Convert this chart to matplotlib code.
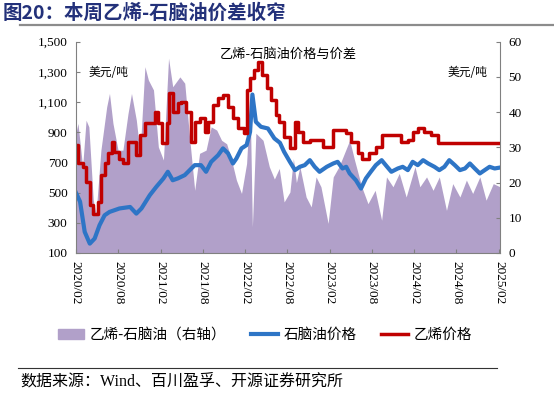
import matplotlib
matplotlib.use('Agg')
import matplotlib.pyplot as plt
from matplotlib.lines import Line2D
from matplotlib.patches import Patch
import pandas as pd

plt.rcParams['font.family'] = ['Liberation Serif', 'Noto Sans CJK SC']

# naphtha price (USD/t, left axis)
naphtha_dates = ['2020-02-01', '2020-02-19', '2020-03-10', '2020-04-01', '2020-04-22', '2020-05-13',
                 '2020-06-04', '2020-06-25', '2020-08-07', '2020-09-22', '2020-10-19', '2020-11-10',
                 '2020-12-16', '2021-01-13', '2021-02-13', '2021-03-04', '2021-03-25', '2021-04-16',
                 '2021-05-16', '2021-06-28', '2021-07-25', '2021-08-16', '2021-09-07', '2021-10-07',
                 '2021-10-28', '2021-11-19', '2021-12-10', '2021-12-25', '2022-01-16', '2022-02-07',
                 '2022-02-22', '2022-03-04', '2022-03-19', '2022-04-10', '2022-05-10', '2022-06-07',
                 '2022-07-01', '2022-07-19', '2022-08-13', '2022-09-04', '2022-09-25', '2022-10-16',
                 '2022-11-07', '2022-11-28', '2022-12-19', '2023-01-19', '2023-02-16', '2023-03-07',
                 '2023-03-28', '2023-04-13', '2023-04-28', '2023-05-25', '2023-06-16', '2023-07-07',
                 '2023-07-28', '2023-08-19', '2023-09-13', '2023-10-04', '2023-10-25', '2023-11-22',
                 '2023-12-13', '2024-01-04', '2024-01-25', '2024-02-16', '2024-03-10', '2024-04-01',
                 '2024-04-28', '2024-05-19', '2024-06-10', '2024-07-01', '2024-07-25', '2024-08-16',
                 '2024-09-07', '2024-09-28', '2024-10-19', '2024-11-10', '2024-12-01', '2024-12-22',
                 '2025-01-13', '2025-02-01']
naphtha = [500, 440, 240, 162, 196, 284,
           350, 372, 395, 405, 361, 395,
           483, 538, 594, 638, 582, 594,
           616, 682, 682, 638, 704, 748,
           793, 760, 693, 726, 793, 815,
           903, 1150, 969, 936, 925, 859,
           830, 770, 704, 649, 671, 682,
           715, 671, 638, 671, 693, 704,
           660, 671, 627, 582, 527, 594,
           638, 682, 715, 676, 638, 660,
           671, 649, 704, 682, 715, 693,
           671, 649, 671, 715, 682, 649,
           660, 693, 660, 627, 649, 671,
           660, 665]

# ethylene price (USD/t, left axis), weekly steps
ethylene_dates = ['2020-02-01', '2020-02-10', '2020-03-01', '2020-03-16', '2020-04-01', '2020-04-16',
                  '2020-05-07', '2020-05-19', '2020-06-04', '2020-06-19', '2020-07-04', '2020-07-16',
                  '2020-08-07', '2020-08-22', '2020-09-13', '2020-10-04', '2020-10-19', '2020-11-04',
                  '2020-11-25', '2020-12-16', '2021-01-07', '2021-01-22', '2021-02-07', '2021-02-28',
                  '2021-03-07', '2021-03-25', '2021-04-16', '2021-05-01', '2021-05-22', '2021-06-13',
                  '2021-06-28', '2021-07-19', '2021-08-10', '2021-08-25', '2021-09-16', '2021-10-07',
                  '2021-10-28', '2021-11-19', '2021-12-10', '2022-01-01', '2022-01-25', '2022-02-07',
                  '2022-02-22', '2022-03-13', '2022-03-28', '2022-04-13', '2022-05-04', '2022-05-25',
                  '2022-06-16', '2022-06-28', '2022-07-19', '2022-08-13', '2022-09-04', '2022-09-16',
                  '2022-10-07', '2022-11-07', '2022-12-04', '2023-01-04', '2023-01-31', '2023-02-16',
                  '2023-03-13', '2023-04-13', '2023-05-04', '2023-06-01', '2023-06-22', '2023-07-22',
                  '2023-08-19', '2023-09-13', '2023-10-04', '2023-11-07', '2023-12-07', '2024-01-04',
                  '2024-01-25', '2024-02-16', '2024-03-16', '2024-04-13', '2024-05-13', '2025-02-05']
ethylene = [815, 693, 671, 571, 416, 361,
            438, 616, 693, 760, 837, 770,
            726, 693, 837, 837, 748, 881,
            959, 959, 1036, 959, 826, 959,
            1158, 1036, 1091, 1102, 1036, 837,
            969, 992, 903, 969, 1080, 1125,
            1147, 1069, 992, 925, 892, 1180,
            1257, 1312, 1367, 1279, 1191, 1113,
            1014, 969, 870, 793, 969, 903,
            837, 848, 848, 804, 804, 914,
            914, 892, 837, 760, 726, 760,
            804, 881, 881, 881, 837, 848,
            903, 925, 903, 881, 830, 830]

# ethylene - naphtha spread (right axis)
spread_dates = ['2020-02-01', '2020-02-10', '2020-03-01', '2020-03-16', '2020-03-28', '2020-04-16',
                '2020-04-28', '2020-05-19', '2020-06-13', '2020-06-25', '2020-07-10', '2020-08-01',
                '2020-08-22', '2020-09-13', '2020-09-28', '2020-10-19', '2020-11-04', '2020-11-25',
                '2020-12-10', '2021-01-01', '2021-01-22', '2021-02-13', '2021-03-07', '2021-03-25',
                '2021-04-25', '2021-05-16', '2021-06-07', '2021-06-28', '2021-07-19', '2021-08-16',
                '2021-09-07', '2021-10-01', '2021-10-22', '2021-11-13', '2021-12-04', '2021-12-25',
                '2022-01-16', '2022-02-07', '2022-02-22', '2022-03-04', '2022-03-19', '2022-04-19',
                '2022-05-16', '2022-06-07', '2022-06-28', '2022-07-19', '2022-08-13', '2022-08-28',
                '2022-09-10', '2022-09-25', '2022-10-22', '2022-11-13', '2022-12-04', '2022-12-25',
                '2023-01-25', '2023-02-16', '2023-03-13', '2023-04-28', '2023-05-19', '2023-06-19',
                '2023-07-16', '2023-08-16', '2023-09-13', '2023-10-04', '2023-11-01', '2023-11-28',
                '2023-12-28', '2024-02-04', '2024-02-25', '2024-03-25', '2024-04-22', '2024-05-19',
                '2024-06-19', '2024-07-16', '2024-08-16', '2024-09-13', '2024-10-10', '2024-11-10',
                '2024-12-07', '2025-01-07', '2025-02-05']
spread = [34, 36.8, 24.5, 37.7, 35.8, 15,
          11.2, 29.2, 41.5, 45.3, 36.8, 29.2,
          29.2, 39.6, 45.3, 37.7, 28.3, 52.9,
          49.1, 46.3, 30.1, 26.4, 55.3, 47.2,
          50, 48.2, 32, 17.8, 28.3, 29.2,
          35.8, 34.9, 32, 31, 26.4, 20.7,
          16.9, 25.4, 43.4, 7.4, 34, 32,
          24.5, 21, 24, 14.5, 17.3, 26.8,
          20, 24.5, 15.9, 13.1, 21.6, 18.8,
          8.4, 21.6, 24.5, 32, 26.4, 18.8,
          14, 17.8, 9.3, 21.6, 18.8, 22.6,
          15.9, 24.5, 18.8, 21.6, 17.8, 21.6,
          12.1, 19.7, 15.9, 20.7, 16.9, 21.6,
          15, 19.7, 18.8]

tick_dates = ['2020-02-01', '2020-08-01', '2021-02-01', '2021-08-01', '2022-02-01', '2022-08-01',
              '2023-02-01', '2023-08-01', '2024-02-01', '2024-08-01', '2025-02-01']
tick_labels = ['2020/02', '2020/08', '2021/02', '2021/08', '2022/02', '2022/08',
               '2023/02', '2023/08', '2024/02', '2024/08', '2025/02']

fig = plt.figure(figsize=(5.54, 3.95), dpi=100)
ax = fig.add_axes([0.137, 0.3595, 0.7655, 0.535])
ax2 = ax.twinx()

area_color = '#B1A0C9'
blue = '#2E75C6'
red = '#C00000'

ax2.fill_between(pd.to_datetime(spread_dates), spread, 0, color=area_color, lw=0)
ax.set_zorder(ax2.get_zorder() + 1)
ax.patch.set_visible(False)

ax.plot(pd.to_datetime(naphtha_dates), naphtha, color=blue, lw=3.0)
ax.plot(pd.to_datetime(ethylene_dates), ethylene, color=red, lw=2.5, drawstyle='steps-post')

ax.set_xlim(pd.Timestamp('2020-02-01'), pd.Timestamp('2025-02-05'))
ax.set_ylim(100, 1500)
ax2.set_ylim(0, 60)
ax.set_yticks(range(100, 1501, 200))
ax.set_yticklabels([f'{v:,}' for v in range(100, 1501, 200)])
ax2.set_yticks(range(0, 61, 10))
ax.set_xticks(pd.to_datetime(tick_dates))
ax.set_xticklabels(tick_labels, rotation=270)

for a in (ax, ax2):
    a.spines['top'].set_visible(False)
    for s in ('left', 'right', 'bottom'):
        a.spines[s].set_color('#808080')
    a.tick_params(direction='in', length=3, color='#808080', labelsize=9.5, pad=6)
ax.spines['right'].set_visible(False)
ax2.spines['left'].set_visible(False)
ax2.spines['bottom'].set_visible(False)

# in-chart annotations
cjk = ['Noto Sans CJK SC']
ax.text(0.5, 0.94, '乙烯-石脑油价格与价差', transform=ax.transAxes, ha='center', va='center',
        fontsize=9.5, family=cjk)
ax.text(0.03, 0.855, '美元/吨', transform=ax.transAxes, ha='left', va='center', fontsize=8.5, family=cjk)
ax.text(0.97, 0.855, '美元/吨', transform=ax.transAxes, ha='right', va='center', fontsize=8.5, family=cjk)

# title and rules
fig.text(0.004, 0.968, '图20：本周乙烯-石脑油价差收窄', ha='left', va='center', fontsize=14,
         fontweight='bold', color='#23317A', family=cjk)
fig.add_artist(Line2D([0.036, 1.0], [0.937, 0.937], color='#8C8C8C', lw=1.6))
fig.add_artist(Line2D([0.032, 0.897], [0.068, 0.068], color='#333333', lw=0.8))
fig.text(0.036, 0.033, '数据来源：Wind、百川盈孚、开源证券研究所', ha='left', va='center', fontsize=11.5)

handles = [Patch(color=area_color), Line2D([], [], color=blue, lw=3.0), Line2D([], [], color=red, lw=2.5)]
labels = ['乙烯-石脑油（右轴）', '石脑油价格', '乙烯价格']
fig.legend(handles, labels, loc='center', bbox_to_anchor=(0.478, 0.152), ncol=3, frameon=False,
           prop={'family': cjk, 'size': 10.5}, handlelength=1.8, columnspacing=1.7,
           handletextpad=0.4)

fig.savefig('out.png', dpi=100)
